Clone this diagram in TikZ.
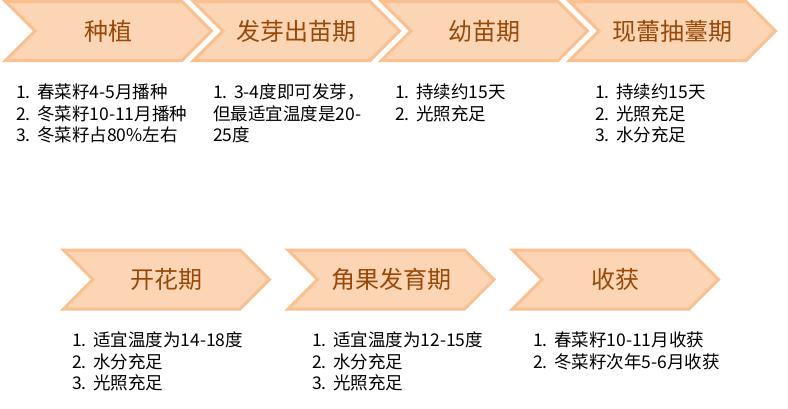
\documentclass[tikz,border=0pt]{standalone}
\usepackage{fontspec}
\setmainfont{Noto Sans CJK SC}
\usepackage{tikz}
\usetikzlibrary{shapes.symbols}
\definecolor{chevfill}{HTML}{FCD5B5}
\definecolor{chevline}{HTML}{FAC090}
\definecolor{chevtext}{HTML}{984807}
\newcommand{\idx}[1]{\makebox[21pt][l]{#1.}}

\begin{document}
\begin{tikzpicture}[x=1pt,y=-1pt,
    chev/.style={signal, signal from=west, signal to=east, signal pointer angle=90,
        fill=chevfill, draw=chevline, line width=3pt, inner sep=0pt,
        minimum width=206pt, minimum height=59pt,
        text=chevtext, font=\fontsize{24}{24}\selectfont},
    notes/.style={anchor=north west, inner sep=0pt, align=left,
        font=\fontsize{17.5}{21.5}\selectfont}]
    \useasboundingbox (0,0) rectangle (788,408);
    % top row
    \node[chev] (zhongzhi) at (108.5,31) {种植};
    \node[chev] (fayamiao) at (296.5,31) {发芽出苗期};
    \node[chev] (youmiao) at (484.5,31) {幼苗期};
    \node[chev] (choutai) at (672.5,31) {现蕾抽薹期};
    \node[notes] (zhongzhi-n) at (16,84) {\idx{1}春菜籽4-5月播种\\ \idx{2}冬菜籽10-11月播种\\ \idx{3}冬菜籽占80\%左右};
    \node[notes] (fayamiao-n) at (213,84) {\idx{1}3-4度即可发芽，\\ 但最适宜温度是20-\\ 25度};
    \node[notes] (youmiao-n) at (395,84) {\idx{1}持续约15天\\ \idx{2}光照充足};
    \node[notes] (choutai-n) at (595,84) {\idx{1}持续约15天\\ \idx{2}光照充足\\ \idx{3}水分充足};
    % bottom row
    \node[chev] (kaihua) at (166.5,279.5) {开花期};
    \node[chev] (jiaoguo) at (391,279.5) {角果发育期};
    \node[chev] (shouhuo) at (615.5,279.5) {收获};
    \node[notes] (kaihua-n) at (72,332) {\idx{1}适宜温度为14-18度\\ \idx{2}水分充足\\ \idx{3}光照充足};
    \node[notes] (jiaoguo-n) at (312,332) {\idx{1}适宜温度为12-15度\\ \idx{2}水分充足\\ \idx{3}光照充足};
    \node[notes] (shouhuo-n) at (533,332) {\idx{1}春菜籽10-11月收获\\ \idx{2}冬菜籽次年5-6月收获};
\end{tikzpicture}
\end{document}
